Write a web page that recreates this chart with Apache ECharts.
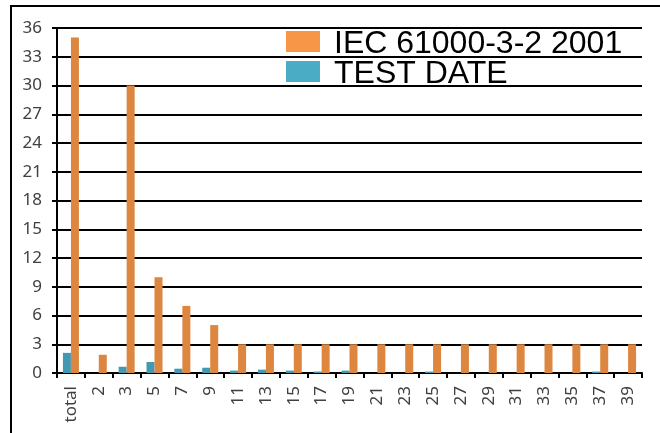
<!DOCTYPE html>
<html>
<head>
<meta charset="utf-8">
<script src="https://cdn.jsdelivr.net/npm/echarts@6/dist/echarts.min.js"></script>
<style>
  html, body { margin: 0; padding: 0; background: #fff; }
  #chart { width: 660px; height: 433px; }
</style>
</head>
<body>
<div id="chart"></div>
<script>
// 谐波次数
const harmonics = ['total', '2', '3', '5', '7', '9', '11', '13', '15', '17', '19', '21', '23', '25', '27', '29', '31', '33', '35', '37', '39']
// 标准限值
const limitValues = [35, 1.9, 30, 10, 7, 5, 3, 3, 3, 3, 3, 3, 3, 3, 3, 3, 3, 3, 3, 3, 3]
// 实测值
const testValues = [2.1, 0, 0.65, 1.15, 0.45, 0.55, 0.25, 0.35, 0.25, 0.15, 0.25, 0, 0, 0.15, 0, 0, 0, 0, 0, 0.15, 0]
const yTicks = { min: 0, max: 36, interval: 3 }

const limitName = 'IEC 61000-3-2 2001'
const testName = 'TEST DATE'

// 图例色块放在上部，文字略低于色块
const legendIcon = 'path://M0,0H34V21H0Z M0,26H0.01V26.01H0Z'

const chart = echarts.init(document.getElementById('chart'))

const option = {
  animation: false,
  graphic: [
    {
      type: 'rect',
      shape: { x: 11, y: 6, width: 700, height: 500 },
      style: { fill: 'none', stroke: '#000', lineWidth: 2 },
      silent: true
    }
  ],
  legend: {
    left: 286,
    top: 28,
    orient: 'vertical',
    padding: 0,
    itemGap: -2,
    itemWidth: 34,
    itemHeight: 26,
    icon: legendIcon,
    data: [
      { name: limitName, itemStyle: { color: '#F79646' } },
      { name: testName, itemStyle: { color: '#4BACC6' } }
    ],
    textStyle: {
      fontFamily: 'Liberation Sans',
      fontSize: 32,
      lineHeight: 26,
      color: '#000',
      padding: [0, 0, 0, 9]
    }
  },
  grid: { left: 57, right: 18, top: 28, bottom: 60 },
  xAxis: {
    type: 'category',
    data: harmonics,
    axisLine: { lineStyle: { color: '#000', width: 2 } },
    axisTick: { show: true, length: 5, interval: 0, lineStyle: { color: '#000', width: 2 } },
    axisLabel: {
      interval: 0,
      rotate: 90,
      margin: 13,
      color: '#404040',
      fontFamily: 'Noto Sans',
      fontSize: 17
    }
  },
  yAxis: {
    type: 'value',
    min: yTicks.min,
    max: yTicks.max,
    interval: yTicks.interval,
    axisLine: { show: true, lineStyle: { color: '#000', width: 2 } },
    axisTick: { show: true, length: 5, lineStyle: { color: '#000', width: 2 } },
    splitLine: { lineStyle: { color: '#000', width: 1.8 } },
    axisLabel: {
      margin: 15,
      color: '#404040',
      fontFamily: 'Noto Sans',
      fontSize: 17
    }
  },
  series: [
    {
      name: testName,
      type: 'bar',
      data: testValues,
      barWidth: 8,
      barGap: '0%',
      itemStyle: { color: '#4299B1' }
    },
    {
      name: limitName,
      type: 'bar',
      data: limitValues,
      barWidth: 8,
      itemStyle: { color: '#DD8640' }
    }
  ]
}

chart.setOption(option)
</script>
</body>
</html>
